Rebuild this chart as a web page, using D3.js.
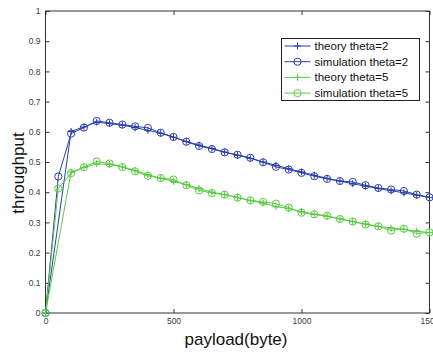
<!DOCTYPE html>
<html>
<head>
<meta charset="utf-8">
<script src="https://cdn.jsdelivr.net/npm/d3@7"></script>
<style>
  body { margin: 0; background: #fff; }
  svg { display: block; font-family: "Liberation Sans", Arial, sans-serif; }
</style>
</head>
<body>
<svg id="chart" width="433" height="352"></svg>
<script>
// payload sizes (bytes)
const simX = [0, 50, 100, 150, 200, 250, 300, 350, 400, 450, 500, 550, 600, 650, 700, 750, 800,
              850, 900, 950, 1000, 1050, 1100, 1150, 1200, 1250, 1300, 1350, 1400, 1450, 1500];
const theoryX = [0, 100, 150, 200, 250, 300, 350, 400, 450, 500, 550, 600, 650, 700, 750, 800,
                 850, 900, 950, 1000, 1050, 1100, 1150, 1200, 1250, 1300, 1350, 1400, 1450, 1500];

const theory2 = [0, 0.601, 0.616, 0.632, 0.627, 0.622, 0.614, 0.605, 0.595, 0.582, 0.568, 0.556,
                 0.545, 0.533, 0.522, 0.512, 0.500, 0.489, 0.478, 0.467, 0.456, 0.446, 0.437,
                 0.428, 0.420, 0.412, 0.405, 0.398, 0.390, 0.383];
const sim2 = [0, 0.452, 0.594, 0.614, 0.636, 0.630, 0.624, 0.618, 0.613, 0.597, 0.583, 0.567,
              0.553, 0.543, 0.532, 0.524, 0.514, 0.499, 0.484, 0.475, 0.464, 0.453, 0.444,
              0.437, 0.434, 0.423, 0.414, 0.409, 0.404, 0.392, 0.383];
const theory5 = [0, 0.467, 0.482, 0.494, 0.492, 0.484, 0.472, 0.458, 0.446, 0.436, 0.425, 0.412,
                 0.400, 0.392, 0.383, 0.372, 0.364, 0.352, 0.346, 0.336, 0.327, 0.320, 0.312,
                 0.303, 0.295, 0.287, 0.281, 0.277, 0.271, 0.266];
const sim5 = [0, 0.412, 0.463, 0.483, 0.502, 0.495, 0.483, 0.469, 0.454, 0.447, 0.442, 0.423,
              0.406, 0.397, 0.392, 0.382, 0.373, 0.368, 0.362, 0.349, 0.332, 0.327, 0.322,
              0.311, 0.303, 0.293, 0.287, 0.273, 0.279, 0.263, 0.267];

const xTicks = [0, 500, 1000, 1500];
const xTickLabels = ["0", "500", "1000", "1500"];
const yTicks = [0, 0.1, 0.2, 0.3, 0.4, 0.5, 0.6, 0.7, 0.8, 0.9, 1];
const yTickLabels = ["0", "0.1", "0.2", "0.3", "0.4", "0.5", "0.6", "0.7", "0.8", "0.9", "1"];

const blue = "#2b3fa9", green = "#58cc40";
const series = [
  { name: "theory theta=2", xs: theoryX, ys: theory2, color: blue, marker: "plus" },
  { name: "simulation theta=2", xs: simX, ys: sim2, color: blue, marker: "circle" },
  { name: "theory theta=5", xs: theoryX, ys: theory5, color: green, marker: "plus" },
  { name: "simulation theta=5", xs: simX, ys: sim5, color: green, marker: "circle" }
];

const svg = d3.select("#chart");
const margin = { top: 11, right: 3.5, bottom: 39, left: 45.5 };
const width = 433 - margin.left - margin.right,
      height = 352 - margin.top - margin.bottom;

const x = d3.scaleLinear().domain([0, 1500]).range([0, width]);
const y = d3.scaleLinear().domain([0, 1]).range([height, 0]);

const g = svg.append("g").attr("transform", "translate(" + margin.left + "," + margin.top + ")");

const axisColor = "#333";
function styleAxis(sel, showText) {
  sel.select(".domain").remove();
  sel.selectAll("line").attr("stroke", axisColor);
  sel.selectAll("text").attr("fill", "#3a3a3a").style("font-size", "8.5px")
     .style("display", showText ? null : "none");
}

g.append("g").attr("transform", "translate(0," + height + ")")
  .call(d3.axisBottom(x).tickValues(xTicks).tickFormat((d, i) => xTickLabels[i])
        .tickSizeInner(-4).tickSizeOuter(0).tickPadding(5))
  .call(s => styleAxis(s, true));
g.append("g")
  .call(d3.axisTop(x).tickValues(xTicks).tickSizeInner(-4).tickSizeOuter(0))
  .call(s => styleAxis(s, false));
g.append("g")
  .call(d3.axisLeft(y).tickValues(yTicks).tickFormat((d, i) => yTickLabels[i])
        .tickSizeInner(-4).tickSizeOuter(0).tickPadding(5))
  .call(s => styleAxis(s, true));
g.append("g").attr("transform", "translate(" + width + ",0)")
  .call(d3.axisRight(y).tickValues(yTicks).tickSizeInner(-4).tickSizeOuter(0))
  .call(s => styleAxis(s, false));

// axes box
g.append("rect").attr("width", width).attr("height", height)
  .attr("fill", "none").attr("stroke", axisColor).attr("stroke-width", 1);

const line = d3.line().x(d => x(d[0])).y(d => y(d[1]));

function drawMarker(sel, type, color) {
  if (type === "circle") {
    sel.append("circle").attr("r", 3.6).attr("fill", "none")
      .attr("stroke", color).attr("stroke-width", 1);
  } else {
    sel.append("path").attr("d", "M-3.5,0H3.5M0,-3.5V3.5")
      .attr("stroke", color).attr("stroke-width", 1);
  }
}

series.forEach(s => {
  const pts = s.xs.map((v, i) => [v, s.ys[i]]);
  g.append("path").datum(pts)
    .attr("fill", "none").attr("stroke", s.color).attr("stroke-width", 1)
    .attr("d", line);
  g.append("g").selectAll("g").data(pts).join("g")
    .attr("transform", d => "translate(" + x(d[0]) + "," + y(d[1]) + ")")
    .each(function () { drawMarker(d3.select(this), s.marker, s.color); });
});

// legend
const leg = svg.append("g").attr("transform", "translate(281.5,38.5)");
leg.append("rect").attr("width", 138).attr("height", 62)
  .attr("fill", "#fff").attr("stroke", "#222").attr("stroke-width", 1);
series.forEach((s, i) => {
  const row = leg.append("g").attr("transform", "translate(0," + (7.5 + i * 15.7) + ")");
  row.append("line").attr("x1", 3).attr("x2", 29).attr("stroke", s.color).attr("stroke-width", 1);
  const m = row.append("g").attr("transform", "translate(16,0)");
  drawMarker(m, s.marker, s.color);
  row.append("text").attr("x", 33).attr("dy", "0.35em")
    .style("font-size", "11.5px").attr("fill", "#111").text(s.name);
});

// axis titles
svg.append("text")
  .attr("x", margin.left + width / 2 - 1.5).attr("y", 345)
  .attr("text-anchor", "middle").style("font-size", "17px").attr("fill", "#111")
  .text("payload(byte)");
svg.append("text")
  .attr("transform", "translate(24,173) rotate(-90)")
  .attr("text-anchor", "middle").style("font-size", "17px").attr("fill", "#111")
  .text("throughput");
</script>
</body>
</html>
